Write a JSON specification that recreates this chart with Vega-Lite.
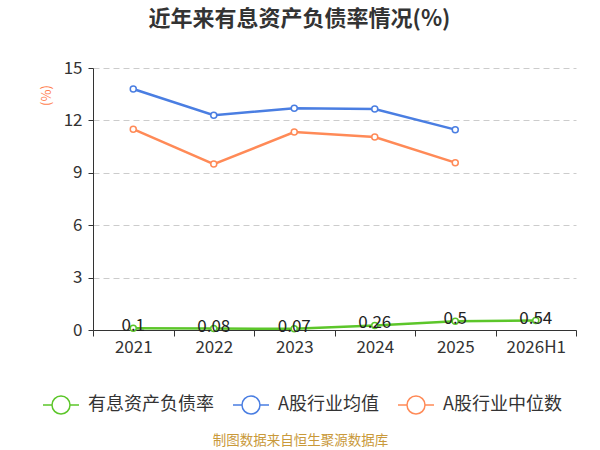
{
  "$schema": "https://vega.github.io/schema/vega-lite/v6.json",
  "width": 483,
  "height": 262,
  "autosize": {"type": "none"},
  "padding": {"left": 93, "top": 68, "right": 24, "bottom": 120},
  "title": {
    "text": "近年来有息资产负债率情况(%)",
    "fontSize": 22,
    "fontWeight": "bold",
    "color": "#333333",
    "font": "Noto Sans CJK SC",
    "anchor": "middle",
    "dx": -35,
    "offset": 28
  },
  "data": {
    "values": [
      {"year": "2021", "series": "有息资产负债率", "value": 0.1},
      {"year": "2022", "series": "有息资产负债率", "value": 0.08},
      {"year": "2023", "series": "有息资产负债率", "value": 0.07},
      {"year": "2024", "series": "有息资产负债率", "value": 0.26},
      {"year": "2025", "series": "有息资产负债率", "value": 0.5},
      {"year": "2026H1", "series": "有息资产负债率", "value": 0.54},
      {"year": "2021", "series": "A股行业均值", "value": 13.8},
      {"year": "2022", "series": "A股行业均值", "value": 12.3},
      {"year": "2023", "series": "A股行业均值", "value": 12.7},
      {"year": "2024", "series": "A股行业均值", "value": 12.65},
      {"year": "2025", "series": "A股行业均值", "value": 11.47},
      {"year": "2021", "series": "A股行业中位数", "value": 11.5},
      {"year": "2022", "series": "A股行业中位数", "value": 9.5},
      {"year": "2023", "series": "A股行业中位数", "value": 11.33},
      {"year": "2024", "series": "A股行业中位数", "value": 11.05},
      {"year": "2025", "series": "A股行业中位数", "value": 9.58}
    ]
  },
  "encoding": {
    "x": {
      "field": "year",
      "type": "ordinal",
      "sort": ["2021", "2022", "2023", "2024", "2025", "2026H1"],
      "scale": {"paddingInner": 0, "paddingOuter": 0},
      "axis": {
        "title": "制图数据来自恒生聚源数据库",
        "titleColor": "#c9993a",
        "titleFontSize": 13.5,
        "titleFontWeight": "normal",
        "titleFont": "Noto Sans CJK SC",
        "titleX": 207,
        "titleY": 110,
        "titleAlign": "center",
        "titleBaseline": "middle",
        "labelAngle": 0,
        "labelFontSize": 17,
        "labelColor": "#333333",
        "labelFont": "Noto Sans CJK SC",
        "labelPadding": 3,
        "tickBand": "extent",
        "tickSize": 6,
        "tickColor": "#333333",
        "domainColor": "#333333",
        "grid": false
      }
    },
    "y": {
      "field": "value",
      "type": "quantitative",
      "scale": {"domain": [0, 15]},
      "axis": {
        "values": [0, 3, 6, 9, 12, 15],
        "title": "(%)",
        "titleColor": "#ff7f50",
        "titleFontSize": 13,
        "titleFontWeight": "normal",
        "titleFont": "Noto Sans CJK SC",
        "titleX": -47,
        "titleY": 27,
        "titleAlign": "center",
        "titleBaseline": "middle",
        "labelFontSize": 17,
        "labelColor": "#333333",
        "labelFont": "Noto Sans CJK SC",
        "labelPadding": 6,
        "tickSize": 5,
        "tickColor": "#333333",
        "domainColor": "#333333",
        "gridColor": "#cccccc",
        "gridDash": [6, 4],
        "gridWidth": 1
      }
    },
    "color": {
      "field": "series",
      "type": "nominal",
      "scale": {
        "domain": ["有息资产负债率", "A股行业均值", "A股行业中位数"],
        "range": ["#5cc62a", "#4a7ee2", "#ff8a57"]
      },
      "legend": {
        "title": null,
        "orient": "none",
        "direction": "horizontal",
        "legendX": -51,
        "legendY": 318,
        "symbolType": "M-1,0L-0.5,0M0.5,0A0.5,0.5,0,1,1,-0.5,0A0.5,0.5,0,1,1,0.5,0M0.5,0L1,0",
        "symbolSize": 1296,
        "symbolStrokeWidth": 1.5,
        "symbolFillColor": "white",
        "labelFontSize": 18,
        "labelColor": "#333333",
        "labelFont": "Noto Sans CJK SC",
        "labelOffset": 8,
        "columnPadding": 16,
        "labelLimit": 220
      }
    }
  },
  "layer": [
    {
      "mark": {"type": "line", "strokeWidth": 2.5}
    },
    {
      "mark": {"type": "point", "filled": false, "fill": "white", "fillOpacity": 1, "size": 36, "strokeWidth": 1.5, "opacity": 1}
    },
    {
      "transform": [{"filter": "datum.series == '有息资产负债率'"}],
      "mark": {"type": "text", "fontSize": 17, "font": "Noto Sans CJK SC", "baseline": "middle", "dy": -2, "color": "#222222"},
      "encoding": {
        "text": {"field": "value", "type": "quantitative"},
        "color": {"value": "#222222"}
      }
    }
  ],
  "config": {
    "view": {"stroke": null},
    "font": "Noto Sans CJK SC"
  }
}
